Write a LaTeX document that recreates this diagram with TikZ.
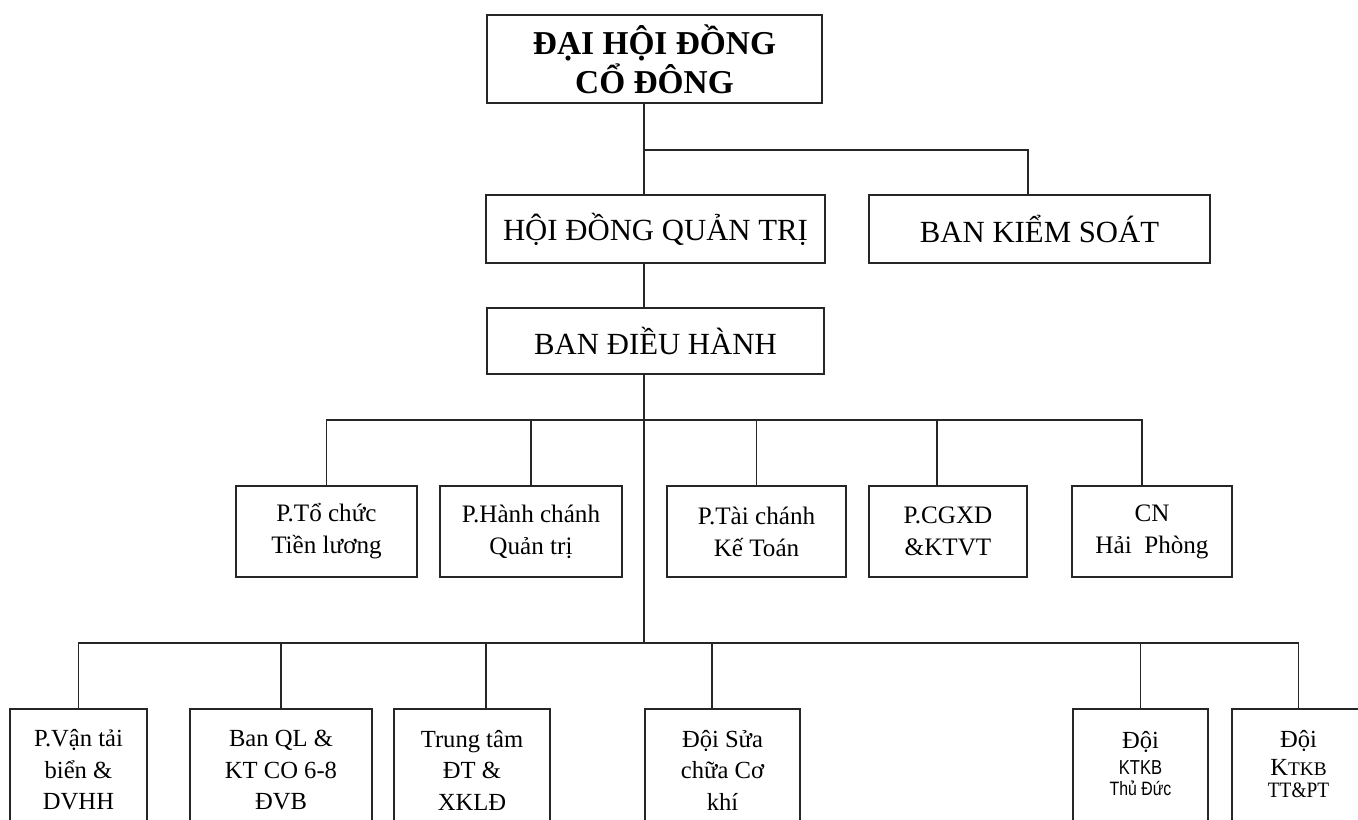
\documentclass[tikz,border=0pt]{standalone}
\usepackage{fontspec}
\setmainfont{Liberation Serif}
\newfontfamily\narrowsans[FakeStretch=0.82]{Liberation Sans}
\newfontfamily\narrowserif[FakeStretch=0.88]{Liberation Serif}
\usetikzlibrary{positioning}
\tikzset{topbox/.style={rectangle,draw=black!85,line width=1pt,fill=white,align=center,
inner sep=2pt,minimum height=17.6mm,minimum width=67mm,font=\fontsize{19}{20}\selectfont\bfseries}}
\tikzset{headbox/.style={rectangle,draw=black!85,line width=1pt,fill=white,align=center,
inner sep=2pt,minimum height=13.6mm,font=\fontsize{17.5}{20}\selectfont}}
\tikzset{deptbox/.style={rectangle,draw=black!85,line width=1pt,fill=white,align=center,
inner sep=2pt,minimum height=18.2mm,font=\fontsize{14.3}{18.2}\selectfont}}
\tikzset{unitbox/.style={rectangle,draw=black!85,line width=1pt,fill=white,align=center,
inner sep=2pt,minimum height=24.4mm,font=\fontsize{14}{17.9}\selectfont}}
\tikzset{link/.style={draw=black!85,line width=1pt}}

\begin{document}
\begin{tikzpicture}[x=0.2mm,y=-0.2mm]
    \clip (0,0) rectangle (1358,819);

    % top levels
    \node[topbox] (dhdcd) at (654.5,59) {ĐẠI HỘI ĐỒNG\\[0.5pt]CỔ ĐÔNG};
    \node[headbox,minimum width=67.8mm] (hdqt) at (655.5,229) {HỘI ĐỒNG QUẢN TRỊ};
    \node[headbox,minimum width=68.2mm] (bks) at (1039.5,229) {BAN KIỂM SOÁT};
    \node[headbox,minimum width=67.4mm,minimum height=13.2mm] (bdh) at (655.5,341) {BAN ĐIỀU HÀNH};

    \coordinate (busA) at (644,150);
    \coordinate (busB) at (644,420);
    \coordinate (busC) at (644,643);

    \draw[link] (dhdcd.south -| busA) -- (hdqt.north -| busA);
    \draw[link] (busA) -| ([xshift=-2.3mm]bks.north);
    \draw[link] (hdqt.south -| busA) -- (bdh.north -| busA);
    \draw[link] (bdh.south -| busB) -- (busC);

    % phong ban
    \node[deptbox,minimum width=36.2mm] (ptc) at (326.5,531.5) {P.Tổ chức\\Tiền lương};
    \node[deptbox,minimum width=36.4mm] (phc) at (531,531.5) {P.Hành chánh\\Quản trị};
    \node[deptbox,minimum width=35.8mm] (ptckt) at (756.5,531.5) {P.Tài chánh\\Kế Toán};
    \node[deptbox,minimum width=31.6mm] (pcg) at (948,531.5) {P.CGXD\\\&KTVT};
    \node[deptbox,minimum width=32mm] (cnhp) at (1152,531.5) {CN\\Hải~~Phòng};

    \draw[link] (busB) -| (ptc.north);
    \draw[link] (busB) -| (phc.north);
    \draw[link] (busB) -| (ptckt.north);
    \draw[link] (busB) -| ([xshift=-2.2mm]pcg.north);
    \draw[link] (busB) -| ([xshift=-2mm]cnhp.north);

    % don vi truc thuoc
    \node[unitbox,minimum width=27.4mm] (pvt) at (78.5,770) {P.Vận tải\\biển \&\\DVHH};
    \node[unitbox,minimum width=36.4mm] (banql) at (281,770) {Ban QL \&\\KT CO 6-8\\ĐVB};
    \node[unitbox,minimum width=31.2mm] (ttdt) at (472,770) {Trung tâm\\ĐT \&\\XKLĐ};
    \node[unitbox,minimum width=31mm] (dsc) at (722.5,770) {Đội Sửa\\chữa Cơ\\khí};
    \node[unitbox,minimum width=27mm,text depth=2.6mm] (dtd) at (1140.5,770)
        {Đội\\[-3pt]{\narrowsans\fontsize{11.5}{13}\selectfont KTKB}\\[-6pt]{\narrowsans\fontsize{11}{13}\selectfont Thủ Đức}};
    \node[unitbox,minimum width=26.6mm,text depth=2.4mm] (dtt) at (1298.5,770)
        {Đội\\[-2pt]K{\fontsize{11}{13}\selectfont TKB}\\[-5pt]{\narrowserif\fontsize{12.5}{13}\selectfont TT\&PT}};

    \draw[link] (busC) -| (pvt.north);
    \draw[link] (busC) -| (banql.north);
    \draw[link] (busC) -| ([xshift=2.8mm]ttdt.north);
    \draw[link] (busC) -| ([xshift=-2.1mm]dsc.north);
    \draw[link] (busC) -| (dtd.north);
    \draw[link] (busC) -| (dtt.north);

\end{tikzpicture}
\end{document}
